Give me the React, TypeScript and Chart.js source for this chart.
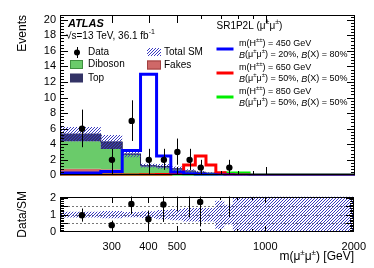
import React, { useEffect, useRef } from "react";
import { Chart, registerables } from "chart.js";
Chart.register(...registerables);

const FAM = '"Liberation Sans", Arial, Helvetica, sans-serif';

// ---- data ----
const binEdges = [200, 275, 325, 375, 425, 475, 525, 575, 625, 675, 725, 775, 875, 1000, 2000];
const dataCounts = [6, 2, 7, 2, 2, 3, 2, 1, 0, 0, 1, 0, 0, 0];
const fakesYield = [0.75, 0.85, 0.8, 0.15, 0.08, 0.06, 0.05, 0.04, 0.03, 0.02, 0.02, 0.01, 0.01, 0];
const dibosonYield = [4.45, 3.55, 2.6, 2.5, 1.07, 0.96, 0.72, 0.45, 0.32, 0.24, 0.15, 0.12, 0.06, 0];
const topYield = [1.0, 0.9, 0.9, 0.1, 0.1, 0.13, 0.08, 0.08, 0.05, 0.04, 0.03, 0.02, 0.01, 0];
const relUncertainty = [0.15, 0.17, 0.21, 0.15, 0.2, 0.27, 0.33, 0.4, 0.4, 0.4, 0.83, 0.58, 1.0, 10];
const signal450 = [0.03, 0.3, 0.5, 3.2, 13.0, 2.5, 0.45, 0.2, 0.12, 0.08, 0.06, 0.04, 0.03, 0.02];
const signal650 = [0.02, 0.03, 0.03, 0.05, 0.08, 0.1, 0.3, 1.35, 2.5, 1.35, 0.35, 0.1, 0.05, 0.03];
const signal850 = [0.02, 0.02, 0.02, 0.02, 0.03, 0.03, 0.04, 0.05, 0.08, 0.1, 0.15, 0.3, 0.3, 0.05];
const eventTicks = [0, 2, 4, 6, 8, 10, 12, 14, 16, 18, 20];
const ratioTicks = [0, 0.5, 1, 1.5, 2];
const massTicks = [300, 400, 500, 1000, 2000];
const massMinorTicks = [600, 700, 800, 900];
// Poisson (68%) lower limits for small counts n = 0..7
const poissonLower = [0, 0.173, 0.708, 1.367, 2.086, 2.84, 3.62, 4.419];

// ---- derived ----
const totalSM = fakesYield.map((f, i) => f + dibosonYield[i] + topYield[i]);
const stackDib = fakesYield.map((f, i) => f + dibosonYield[i]);
const binCenters = binEdges.slice(0, -1).map((e, i) => (e + binEdges[i + 1]) / 2);
const steps = (vals: number[]) =>
  binEdges.map((e, i) => ({ x: e, y: vals[Math.min(i, vals.length - 1)] }));
const lowOf = (n: number) => (n < poissonLower.length ? poissonLower[n] : n - Math.sqrt(n));
const highOf = (n: number) => n + Math.sqrt(n);
const dataPts = binCenters
  .map((c, i) => ({ x: c, y: dataCounts[i] }))
  .filter((p) => p.y > 0);
const ratioPts = binCenters
  .map((c, i) => ({ x: c, y: totalSM[i] > 0 ? dataCounts[i] / totalSM[i] : NaN, n: dataCounts[i], t: totalSM[i] }))
  .filter((p) => p.n > 0 && p.t > 0);

const COL_DIB = "#6acb6a";
const COL_FAKE = "#cf6868";
const COL_TOP = "#333366";

type Seg = { t: string; sup?: boolean; it?: boolean; bold?: boolean };
function drawRich(ctx: CanvasRenderingContext2D, segs: Seg[], x: number, y: number, size: number, align: "left" | "right" = "left") {
  const font = (s: Seg) =>
    `${s.it ? "italic " : ""}${s.bold ? "bold " : ""}${s.sup ? Math.round(size * 0.7) : size}px ${FAM}`;
  let w = 0;
  for (const s of segs) {
    ctx.font = font(s);
    w += ctx.measureText(s.t).width;
  }
  let cx = align === "right" ? x - w : x;
  ctx.textBaseline = "middle";
  ctx.textAlign = "left";
  ctx.fillStyle = "#000";
  for (const s of segs) {
    ctx.font = font(s);
    ctx.fillText(s.t, cx, s.sup ? y - size * 0.38 : y);
    cx += ctx.measureText(s.t).width;
  }
}

function makeHatch(): CanvasPattern | string {
  const c = document.createElement("canvas");
  c.width = 3;
  c.height = 3;
  const g = c.getContext("2d");
  if (!g) return "rgba(60,60,200,0.5)";
  g.strokeStyle = "#3a3ac0";
  g.lineWidth = 1;
  g.beginPath();
  g.moveTo(0, 3);
  g.lineTo(3, 0);
  g.moveTo(-1, 1);
  g.lineTo(1, -1);
  g.moveTo(2, 4);
  g.lineTo(4, 2);
  g.stroke();
  return g.createPattern(c, "repeat") || "rgba(60,60,200,0.5)";
}

function axesDecor(o: { yMajor: number[]; yStep: number; yMin: number; yMax: number; yMaj: number; yMin2: number; xMaj: number; xMin2: number }) {
  return {
    id: "axesDecor",
    afterDatasetsDraw(chart: any) {
      const { ctx, chartArea: a } = chart;
      const xs = chart.scales.x;
      const ys = chart.scales.y;
      const L = Math.round(a.left), R = Math.round(a.right), T = Math.round(a.top), B = Math.round(a.bottom);
      ctx.save();
      ctx.strokeStyle = "#000";
      ctx.lineWidth = 1;
      ctx.beginPath();
      const xt = (v: number, len: number) => {
        const p = Math.round(xs.getPixelForValue(v)) + 0.5;
        if (p < L || p > R) return;
        ctx.moveTo(p, B);
        ctx.lineTo(p, B - len);
        ctx.moveTo(p, T);
        ctx.lineTo(p, T + len);
      };
      massTicks.forEach((v) => xt(v, o.xMaj));
      massMinorTicks.forEach((v) => xt(v, o.xMin2));
      const yt = (v: number, len: number) => {
        const p = Math.round(ys.getPixelForValue(v)) + 0.5;
        if (p < T || p > B) return;
        ctx.moveTo(L, p);
        ctx.lineTo(L + len, p);
        ctx.moveTo(R, p);
        ctx.lineTo(R - len, p);
      };
      o.yMajor.forEach((v) => yt(v, o.yMaj));
      const k0 = Math.ceil(o.yMin / o.yStep - 1e-9), k1 = Math.floor(o.yMax / o.yStep + 1e-9);
      for (let k = k0; k <= k1; k++) yt(k * o.yStep, o.yMin2);
      ctx.stroke();
      ctx.strokeRect(L + 0.5, T + 0.5, R - L - 1, B - T - 1);
      ctx.restore();
    },
  };
}

export default function App() {
  const topRef = useRef<HTMLCanvasElement>(null);
  const botRef = useRef<HTMLCanvasElement>(null);

  useEffect(() => {
    const hatch = makeHatch();
    const tickFont = { family: FAM, size: 11 };

    const topTexts = {
      id: "topTexts",
      afterDatasetsDraw(chart: any) {
        const { ctx, chartArea: a } = chart;
        const xs = chart.scales.x, ys = chart.scales.y;
        ctx.save();
        ctx.beginPath();
        ctx.rect(a.left, a.top, a.width, a.height);
        ctx.clip();
        ctx.strokeStyle = "#000";
        ctx.lineWidth = 1;
        ctx.beginPath();
        binCenters.forEach((c, i) => {
          const n = dataCounts[i];
          if (n <= 0) return;
          const px = Math.round(xs.getPixelForValue(c)) + 0.5;
          ctx.moveTo(px, ys.getPixelForValue(highOf(n)));
          ctx.lineTo(px, ys.getPixelForValue(lowOf(n)));
        });
        ctx.stroke();
        ctx.restore();
      },
      afterDraw(chart: any) {
        const ctx: CanvasRenderingContext2D = chart.ctx;
        ctx.save();
        drawRich(ctx, [{ t: "ATLAS", it: true, bold: true }], 68, 23.5, 11);
        drawRich(ctx, [{ t: "\u221As=13 TeV, 36.1 fb" }, { t: "-1", sup: true }], 66, 36, 10);
        ctx.fillStyle = "#000";
        ctx.beginPath();
        ctx.arc(77, 52.5, 3, 0, Math.PI * 2);
        ctx.fill();
        ctx.strokeStyle = "#000";
        ctx.lineWidth = 1;
        ctx.beginPath();
        ctx.moveTo(77.5, 47);
        ctx.lineTo(77.5, 58);
        ctx.stroke();
        drawRich(ctx, [{ t: "Data" }], 88, 52.5, 10);
        ctx.fillStyle = COL_DIB;
        ctx.fillRect(70, 60, 13, 9);
        ctx.strokeStyle = "#3f8f3f";
        ctx.strokeRect(70.5, 60.5, 12, 8);
        drawRich(ctx, [{ t: "Diboson" }], 88, 64.5, 10);
        ctx.fillStyle = COL_TOP;
        ctx.fillRect(70, 73.5, 13, 9);
        drawRich(ctx, [{ t: "Top" }], 88, 78, 10);
        ctx.fillStyle = hatch as any;
        ctx.fillRect(147, 48, 14, 8);
        drawRich(ctx, [{ t: "Total SM" }], 164, 52, 10);
        ctx.fillStyle = COL_FAKE;
        ctx.fillRect(147, 60.5, 14, 9);
        ctx.strokeStyle = "#a04040";
        ctx.strokeRect(147.5, 61, 13, 8);
        drawRich(ctx, [{ t: "Fakes" }], 164, 65, 10);
        drawRich(ctx, [{ t: "SR1P2L (\u03bc" }, { t: "\u00b1", sup: true }, { t: "\u03bc" }, { t: "\u00b1", sup: true }, { t: ")" }], 216.5, 26, 10);
        const sigs = [
          { m: "450", b: "20%", x: "80%", c: "#0000ff" },
          { m: "650", b: "50%", x: "50%", c: "#ff0000" },
          { m: "850", b: "50%", x: "50%", c: "#00ee00" },
        ];
        sigs.forEach((s, k) => {
          const y0 = 43.5 + 24 * k;
          ctx.strokeStyle = s.c;
          ctx.lineWidth = 3;
          ctx.beginPath();
          ctx.moveTo(216.5, y0 + 5.5);
          ctx.lineTo(233.5, y0 + 5.5);
          ctx.stroke();
          drawRich(ctx, [{ t: "m(H" }, { t: "\u00b1\u00b1", sup: true }, { t: ") = " + s.m + " GeV" }], 239, y0, 9);
          drawRich(
            ctx,
            [
              { t: "B", it: true },
              { t: "(\u03bc" },
              { t: "\u00b1", sup: true },
              { t: "\u03bc" },
              { t: "\u00b1", sup: true },
              { t: ") = " + s.b + ", " },
              { t: "B", it: true },
              { t: "(X) = " + s.x },
            ],
            239,
            y0 + 11.5,
            9
          );
        });
        ctx.restore();
      },
    };

    const line = (data: any[], color: string, extra: any = {}) => ({
      type: "line" as const,
      data,
      stepped: "after" as const,
      borderColor: color,
      borderWidth: 3,
      pointRadius: 0,
      fill: false,
      borderJoinStyle: "miter" as const,
      ...extra,
    });

    const c1 = new Chart(topRef.current as HTMLCanvasElement, {
      type: "line",
      data: {
        datasets: [
          { type: "line", data: dataPts, showLine: false, pointRadius: 3.2, pointBackgroundColor: "#000", pointBorderColor: "#000", pointBorderWidth: 0 } as any,
          line(steps(signal450), "#0000ff"),
          line(steps(signal650), "#ff0000"),
          line(steps(signal850), "#00ee00"),
          line(steps(totalSM.map((t, i) => t * (1 + relUncertainty[i]))), "transparent", { borderWidth: 0, fill: "+1", backgroundColor: hatch }),
          line(steps(totalSM.map((t, i) => Math.max(0, t * (1 - relUncertainty[i])))), "transparent", { borderWidth: 0 }),
          line(steps(totalSM), "#1f1f4a", { borderWidth: 1, fill: "+1", backgroundColor: COL_TOP }),
          line(steps(stackDib), "transparent", { borderWidth: 0, fill: "+1", backgroundColor: COL_DIB }),
          line(steps(fakesYield), "transparent", { borderWidth: 0, fill: "origin", backgroundColor: COL_FAKE }),
        ],
      },
      options: {
        animation: false,
        responsive: false,
        devicePixelRatio: 1,
        events: [],
        layout: { padding: { left: 15, top: 15, right: 19, bottom: 0 } },
        plugins: { legend: { display: false }, tooltip: { enabled: false } },
        scales: {
          x: {
            type: "logarithmic",
            min: 200,
            max: 2000,
            ticks: { display: false },
            grid: { display: false, drawTicks: false },
            border: { display: false },
            afterFit: (s: any) => {
              s.height = 6;
            },
          },
          y: {
            type: "linear",
            min: 0,
            max: 20.6,
            afterBuildTicks: (s: any) => {
              s.ticks = eventTicks.map((v) => ({ value: v }));
            },
            ticks: { font: tickFont, color: "#000", padding: 4, callback: (v: any) => String(v) },
            grid: { display: false, drawTicks: false },
            border: { display: false },
            title: { display: true, text: "Events", align: "end", color: "#000", font: { family: FAM, size: 12 }, padding: 0 },
            afterFit: (s: any) => {
              s.width = 45;
            },
          },
        },
      } as any,
      plugins: [axesDecor({ yMajor: eventTicks, yStep: 0.4, yMin: 0, yMax: 20.6, yMaj: 8, yMin2: 4, xMaj: 8, xMin2: 4 }), topTexts],
    });

    const botDecor = {
      id: "botDecor",
      beforeDatasetsDraw(chart: any) {
        const { ctx, chartArea: a } = chart;
        const ys = chart.scales.y;
        ctx.save();
        ctx.strokeStyle = "#777";
        ctx.lineWidth = 1;
        ctx.setLineDash([2, 2]);
        ctx.beginPath();
        [0.5, 1, 1.5].forEach((v) => {
          const p = Math.round(ys.getPixelForValue(v)) + 0.5;
          ctx.moveTo(a.left, p);
          ctx.lineTo(a.right, p);
        });
        ctx.stroke();
        ctx.restore();
      },
      afterDatasetsDraw(chart: any) {
        const { ctx, chartArea: a } = chart;
        const xs = chart.scales.x, ys = chart.scales.y;
        ctx.save();
        ctx.beginPath();
        ctx.rect(a.left, a.top, a.width, a.height);
        ctx.clip();
        ctx.strokeStyle = "#000";
        ctx.lineWidth = 1;
        ctx.beginPath();
        ratioPts.forEach((p) => {
          const px = Math.round(xs.getPixelForValue(p.x)) + 0.5;
          ctx.moveTo(px, ys.getPixelForValue(highOf(p.n) / p.t));
          ctx.lineTo(px, ys.getPixelForValue(lowOf(p.n) / p.t));
        });
        ctx.stroke();
        ctx.restore();
      },
      afterDraw(chart: any) {
        const ctx: CanvasRenderingContext2D = chart.ctx;
        ctx.save();
        drawRich(ctx, [{ t: "m(\u03bc" }, { t: "\u00b1", sup: true }, { t: "\u03bc" }, { t: "\u00b1", sup: true }, { t: ") [GeV]" }], 354, 71, 12, "right");
        ctx.restore();
      },
    };

    const c2 = new Chart(botRef.current as HTMLCanvasElement, {
      type: "line",
      data: {
        datasets: [
          { type: "line", data: ratioPts, showLine: false, pointRadius: 3.2, pointBackgroundColor: "#000", pointBorderColor: "#000", pointBorderWidth: 0 } as any,
          line(steps(relUncertainty.map((r) => 1 + r)), "transparent", { borderWidth: 0, fill: "+1", backgroundColor: hatch }),
          line(steps(relUncertainty.map((r) => 1 - r)), "transparent", { borderWidth: 0 }),
        ],
      },
      options: {
        animation: false,
        responsive: false,
        devicePixelRatio: 1,
        events: [],
        layout: { padding: { left: 15, top: 3, right: 19, bottom: 0 } },
        plugins: { legend: { display: false }, tooltip: { enabled: false } },
        scales: {
          x: {
            type: "logarithmic",
            min: 200,
            max: 2000,
            afterBuildTicks: (s: any) => {
              s.ticks = massTicks.map((v) => ({ value: v }));
            },
            ticks: { font: tickFont, color: "#000", padding: 8, autoSkip: false, maxRotation: 0, callback: (v: any) => String(v) },
            grid: { display: false, drawTicks: false },
            border: { display: false },
            afterFit: (s: any) => {
              s.height = 36;
            },
          },
          y: {
            type: "linear",
            min: -0.03,
            max: 2.07,
            afterBuildTicks: (s: any) => {
              s.ticks = ratioTicks.map((v) => ({ value: v }));
            },
            ticks: { font: tickFont, color: "#000", padding: 4, callback: (v: any) => String(v) },
            grid: { display: false, drawTicks: false },
            border: { display: false },
            title: { display: true, text: "Data/SM", align: "center", color: "#000", font: { family: FAM, size: 12 }, padding: 0 },
            afterFit: (s: any) => {
              s.width = 45;
            },
          },
        },
      } as any,
      plugins: [axesDecor({ yMajor: ratioTicks, yStep: 0.1, yMin: 0, yMax: 2, yMaj: 8, yMin2: 4, xMaj: 6, xMin2: 3 }), botDecor],
    });

    return () => {
      c1.destroy();
      c2.destroy();
    };
  }, []);

  return (
    <div style={{ position: "absolute", left: 0, top: 0, width: 374, height: 268, background: "#fff" }}>
      <canvas ref={topRef} width={374} height={186} style={{ position: "absolute", left: 0, top: 0 }} />
      <canvas ref={botRef} width={374} height={82} style={{ position: "absolute", left: 0, top: 186 }} />
    </div>
  );
}
